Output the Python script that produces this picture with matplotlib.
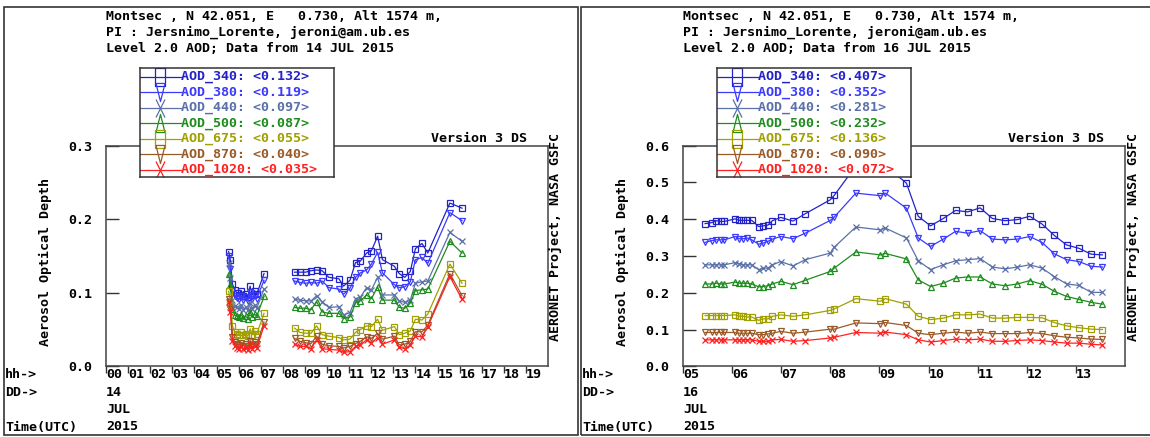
import numpy as np
import matplotlib
matplotlib.use("Agg")
import matplotlib.pyplot as plt
from matplotlib.path import Path

nan = np.nan

names = ["AOD_340", "AOD_380", "AOD_440", "AOD_500", "AOD_675", "AOD_870", "AOD_1020"]
colors = ["#2222c8", "#3a3aff", "#5a70a8", "#1e8c1e", "#a0a000", "#9a5a28", "#ff2020"]
markers = ["s", "v", "x", "^", "s", "v", "x"]

# 14 JUL 2015 (nan = gap in measurements)
jul14_hours = [5.55, 5.63, 5.72, 5.82, 5.92, 6.02, 6.12, 6.22, 6.32, 6.42, 6.52, 6.62, 6.72, 6.82, 7.15, nan,
               8.53, 8.78, 9.03, 9.28, 9.53, 9.78, 10.08, 10.54, 10.75, 11.04, 11.29, 11.51, 11.79, 12.01,
               12.29, 12.51, 13.05, 13.27, 13.52, 13.77, 14.00, 14.30, 14.56, 15.56, 16.11]
jul14_340 = [0.156, 0.144, 0.112, 0.104, 0.100, 0.097, 0.103, 0.096, 0.099, 0.094, 0.109, 0.097, 0.103, 0.098, 0.126, nan,
             0.128, 0.128, 0.128, 0.130, 0.131, 0.130, 0.121, 0.119, 0.109, 0.117, 0.141, 0.143, 0.154, 0.157,
             0.177, 0.145, 0.136, 0.126, 0.121, 0.129, 0.160, 0.167, 0.154, 0.222, 0.215]
jul14_380 = [0.150, 0.132, 0.102, 0.095, 0.093, 0.091, 0.096, 0.090, 0.094, 0.089, 0.101, 0.091, 0.097, 0.092, 0.117, nan,
             0.116, 0.114, 0.113, 0.114, 0.113, 0.116, 0.107, 0.105, 0.098, 0.106, 0.121, 0.127, 0.131, 0.139,
             0.155, 0.127, 0.111, 0.107, 0.108, 0.115, 0.145, 0.148, 0.140, 0.209, 0.198]
jul14_440 = [0.140, 0.120, 0.090, 0.082, 0.080, 0.078, 0.083, 0.077, 0.080, 0.076, 0.086, 0.078, 0.083, 0.079, 0.105, nan,
             0.091, 0.090, 0.089, 0.089, 0.096, 0.088, 0.080, 0.081, 0.070, 0.073, 0.092, 0.094, 0.107, 0.104,
             0.121, 0.097, 0.097, 0.089, 0.087, 0.090, 0.113, 0.115, 0.116, 0.182, 0.170]
jul14_500 = [0.126, 0.110, 0.078, 0.070, 0.068, 0.067, 0.070, 0.066, 0.068, 0.065, 0.074, 0.067, 0.071, 0.068, 0.095, nan,
             0.080, 0.079, 0.079, 0.077, 0.088, 0.074, 0.072, 0.072, 0.065, 0.067, 0.086, 0.089, 0.097, 0.092,
             0.108, 0.090, 0.090, 0.080, 0.079, 0.086, 0.103, 0.104, 0.105, 0.170, 0.154]
jul14_675 = [0.102, 0.088, 0.055, 0.047, 0.044, 0.043, 0.046, 0.042, 0.044, 0.041, 0.051, 0.043, 0.048, 0.044, 0.072, nan,
             0.052, 0.046, 0.045, 0.045, 0.055, 0.043, 0.041, 0.039, 0.036, 0.037, 0.046, 0.050, 0.055, 0.054,
             0.064, 0.049, 0.054, 0.043, 0.045, 0.048, 0.064, 0.063, 0.071, 0.139, 0.113]
jul14_870 = [0.092, 0.078, 0.040, 0.033, 0.030, 0.029, 0.032, 0.028, 0.030, 0.027, 0.035, 0.029, 0.033, 0.030, 0.060, nan,
             0.038, 0.034, 0.032, 0.031, 0.041, 0.030, 0.028, 0.027, 0.025, 0.027, 0.031, 0.034, 0.040, 0.038,
             0.045, 0.037, 0.041, 0.029, 0.030, 0.034, 0.047, 0.047, 0.056, 0.126, 0.096]
jul14_1020 = [0.088, 0.074, 0.035, 0.028, 0.025, 0.024, 0.027, 0.023, 0.025, 0.022, 0.030, 0.024, 0.028, 0.025, 0.055, nan,
              0.030, 0.027, 0.027, 0.024, 0.036, 0.024, 0.023, 0.022, 0.019, 0.020, 0.027, 0.029, 0.036, 0.032,
              0.039, 0.030, 0.036, 0.026, 0.024, 0.029, 0.041, 0.040, 0.054, 0.122, 0.091]
jul14_means = ["0.132", "0.119", "0.097", "0.087", "0.055", "0.040", "0.035"]

# 16 JUL 2015
jul16_hours = [5.45, 5.59, 5.68, 5.77, 5.84, 6.06, 6.15, 6.23, 6.31, 6.40, 6.54, 6.63, 6.73, 6.82, 6.99,
               7.24, 7.49, 8.00, 8.08, 8.52, 9.02, 9.12, 9.55, 9.79, 10.04, 10.30, 10.55, 10.80, 11.05,
               11.30, 11.56, 11.81, 12.06, 12.31, 12.56, 12.81, 13.06, 13.31, 13.54]
jul16_340 = [0.388, 0.391, 0.396, 0.394, 0.394, 0.401, 0.397, 0.397, 0.397, 0.397, 0.380, 0.382, 0.384, 0.396, 0.405,
             0.395, 0.415, 0.453, 0.465, 0.545, 0.538, 0.546, 0.498, 0.408, 0.382, 0.402, 0.424, 0.420, 0.431,
             0.402, 0.396, 0.399, 0.408, 0.387, 0.356, 0.330, 0.321, 0.305, 0.303]
jul16_380 = [0.337, 0.342, 0.344, 0.344, 0.344, 0.353, 0.347, 0.347, 0.349, 0.344, 0.332, 0.335, 0.340, 0.346, 0.353,
             0.347, 0.362, 0.397, 0.406, 0.471, 0.464, 0.471, 0.430, 0.349, 0.326, 0.346, 0.367, 0.362, 0.369,
             0.346, 0.344, 0.346, 0.353, 0.337, 0.306, 0.290, 0.285, 0.272, 0.270]
jul16_440 = [0.276, 0.276, 0.276, 0.276, 0.276, 0.282, 0.279, 0.276, 0.276, 0.276, 0.263, 0.267, 0.267, 0.276, 0.285,
             0.273, 0.290, 0.308, 0.324, 0.379, 0.371, 0.376, 0.349, 0.287, 0.263, 0.276, 0.287, 0.290, 0.293,
             0.270, 0.265, 0.270, 0.276, 0.267, 0.244, 0.224, 0.220, 0.201, 0.201]
jul16_500 = [0.224, 0.224, 0.226, 0.224, 0.224, 0.229, 0.226, 0.226, 0.226, 0.224, 0.216, 0.217, 0.219, 0.224, 0.231,
             0.222, 0.234, 0.258, 0.267, 0.311, 0.303, 0.307, 0.292, 0.235, 0.217, 0.226, 0.240, 0.243, 0.243,
             0.224, 0.219, 0.224, 0.233, 0.223, 0.204, 0.190, 0.182, 0.174, 0.169]
jul16_675 = [0.138, 0.138, 0.138, 0.138, 0.138, 0.140, 0.136, 0.136, 0.134, 0.134, 0.125, 0.129, 0.129, 0.136, 0.140,
             0.136, 0.140, 0.152, 0.156, 0.184, 0.177, 0.184, 0.169, 0.136, 0.127, 0.131, 0.140, 0.140, 0.142,
             0.131, 0.131, 0.133, 0.133, 0.132, 0.119, 0.110, 0.105, 0.101, 0.100]
jul16_870 = [0.092, 0.092, 0.092, 0.092, 0.092, 0.092, 0.090, 0.090, 0.090, 0.090, 0.086, 0.086, 0.088, 0.090, 0.095,
             0.090, 0.093, 0.101, 0.101, 0.118, 0.116, 0.119, 0.111, 0.090, 0.086, 0.090, 0.093, 0.090, 0.093,
             0.089, 0.089, 0.089, 0.092, 0.089, 0.083, 0.079, 0.077, 0.074, 0.073]
jul16_1020 = [0.072, 0.072, 0.072, 0.072, 0.072, 0.072, 0.072, 0.072, 0.072, 0.072, 0.068, 0.068, 0.068, 0.072, 0.073,
              0.068, 0.070, 0.077, 0.079, 0.092, 0.090, 0.093, 0.086, 0.072, 0.066, 0.070, 0.074, 0.072, 0.074,
              0.068, 0.068, 0.070, 0.072, 0.070, 0.066, 0.063, 0.063, 0.060, 0.058]
jul16_means = ["0.407", "0.352", "0.281", "0.232", "0.136", "0.090", "0.072"]

header = ["Montsec , N 42.051, E   0.730, Alt 1574 m,",
          "PI : Jersnimo_Lorente, jeroni@am.ub.es"]

W, H = 1150, 437
FONT = dict(family="DejaVu Sans Mono", weight="bold", size=9.6)


def fx(x):
    return x / W


def fy(y):
    return 1 - y / H


# tall legend markers, like the original plot
def tall(kind):
    if kind == "s":
        return Path([(-0.25, -0.5), (0.25, -0.5), (0.25, 0.5), (-0.25, 0.5), (-0.25, -0.5)])
    if kind == "v":
        return Path([(-0.25, 0.5), (0.25, 0.5), (0, -0.5), (-0.25, 0.5)])
    if kind == "^":
        return Path([(-0.25, -0.5), (0.25, -0.5), (0, 0.5), (-0.25, -0.5)])
    return Path([(-0.25, -0.5), (0.25, 0.5), (-0.25, 0.5), (0.25, -0.5)],
                [Path.MOVETO, Path.LINETO, Path.MOVETO, Path.LINETO])


fig = plt.figure(figsize=(11.5, 4.37), dpi=100)


def panel(dx, hours, series, means, xlim, ymax, day):
    # outer frame
    fig.patches.append(plt.Rectangle((fx(dx + 4), fy(435)), fx(574), (435 - 7) / H, transform=fig.transFigure,
                                     fill=False, edgecolor="#333333", linewidth=1.2))
    lines = header + ["Level 2.0 AOD; Data from %s JUL 2015" % day]
    for i, t in enumerate(lines):
        fig.text(fx(dx + 106), fy(16 + i * 16.5), t, va="center", ha="left", **FONT)

    ax = fig.add_axes([fx(dx + 106), fy(366.3), fx(442), (366.3 - 145.7) / H])
    for vals, c, m in zip(series, colors, markers):
        ax.plot(hours, vals, color=c, lw=0.9, marker=m, ms=4, mfc="none", mec=c, mew=0.9)
    ax.set_xlim(*xlim)
    ax.set_ylim(0, ymax)
    xt = list(range(int(xlim[0]), int(xlim[1])))
    ax.set_xticks(xt)
    ax.set_xticklabels(["%02d" % h for h in xt], ha="left", **FONT)
    yt = np.arange(0, ymax + 0.001, 0.1)
    ax.set_yticks(yt)
    ax.set_yticklabels(["%.1f" % v for v in yt], **FONT)
    ax.tick_params(axis="x", direction="out", length=5, width=1, pad=-4, color="#333333")
    ax.tick_params(axis="y", direction="in", length=9, width=1, pad=10, color="#333333")
    for s in ax.spines.values():
        s.set_color("#444444")
        s.set_linewidth(1.1)

    fig.text(fx(dx + 45), fy(262), "Aerosol Optical Depth", rotation=90, ha="center", va="center", **FONT)
    fig.text(fx(dx + 527), fy(138), "Version 3 DS", ha="right", va="center", **FONT)
    fig.text(fx(dx + 556), fy(133), "AERONET Project, NASA GSFC", rotation=90, ha="center", va="top", **FONT)
    fig.text(fx(dx + 5), fy(374), "hh->", va="center", **FONT)
    fig.text(fx(dx + 5), fy(392), "DD->", va="center", **FONT)
    fig.text(fx(dx + 5), fy(427), "Time(UTC)", va="center", **FONT)
    fig.text(fx(dx + 106), fy(392), day, va="center", **FONT)
    fig.text(fx(dx + 106), fy(409.5), "JUL", va="center", **FONT)
    fig.text(fx(dx + 106), fy(427), "2015", va="center", **FONT)

    # legend box drawn over the plot
    lax = fig.add_axes([fx(dx + 140), fy(177.3), fx(194), (177.3 - 67.7) / H], zorder=5)
    lax.set_xlim(0, 194)
    lax.set_ylim(109.6, 0)
    lax.set_xticks([])
    lax.set_yticks([])
    for s in lax.spines.values():
        s.set_color("#333333")
        s.set_linewidth(1.1)
    for i, (n, c, m, mv) in enumerate(zip(names, colors, markers, means)):
        y = 9 + i * 15.55
        lax.plot([0, 41], [y, y], color=c, lw=0.9)
        lax.plot([20], [y], marker=tall(m), ms=13, mfc="none", mec=c, mew=0.9)
        lax.text(41, y, "%s: <%s>" % (n, mv), color=c, va="center", ha="left", **FONT)
    return ax


panel(0, jul14_hours, [jul14_340, jul14_380, jul14_440, jul14_500, jul14_675, jul14_870, jul14_1020],
      jul14_means, (0, 20), 0.3, "14")
panel(577, jul16_hours, [jul16_340, jul16_380, jul16_440, jul16_500, jul16_675, jul16_870, jul16_1020],
      jul16_means, (5, 14), 0.6, "16")

fig.savefig("out.png", dpi=100)
